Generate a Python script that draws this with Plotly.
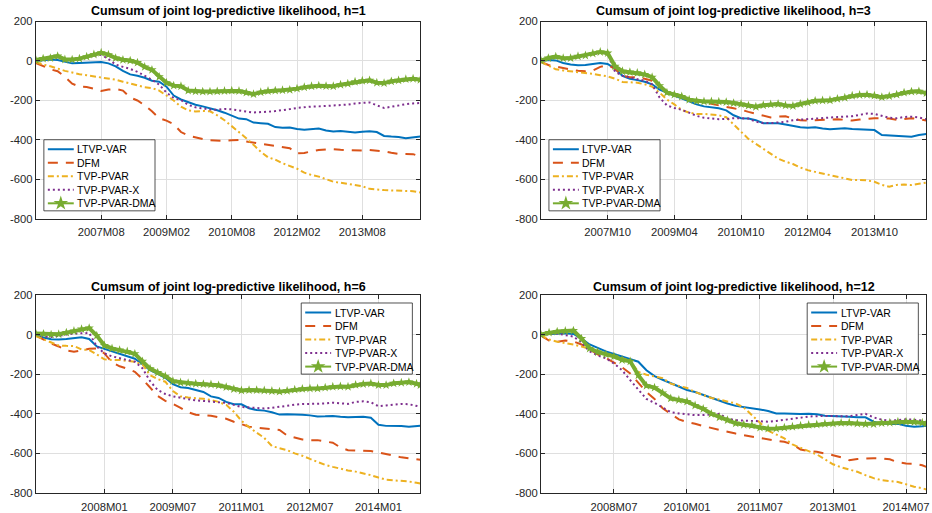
import plotly.graph_objects as go

W, H = 932, 513

NAMES = ["LTVP-VAR", "DFM", "TVP-PVAR", "TVP-PVAR-X", "TVP-PVAR-DMA"]
HORIZONS = [1, 3, 6, 12]
START_MONTH = ["2006M02", "2006M04", "2006M07", "2007M01"]
END_MONTH = "2014M12"
XTICK_LABELS = [
    ["2007M08", "2009M02", "2010M08", "2012M02", "2013M08"],
    ["2007M10", "2009M04", "2010M10", "2012M04", "2013M10"],
    ["2008M01", "2009M07", "2011M01", "2012M07", "2014M01"],
    ["2008M07", "2010M01", "2011M07", "2013M01", "2014M07"],
]
YTICK_VALUES = [200, 0, -200, -400, -600, -800]
YTICK_LABELS = ["200", "0", "-200", "-400", "-600", "-800"]

# ---- cumulative sums read off the chart, sampled every 2 months (+ last month) ----
# h = 1 (2006M02 .. 2014M12)
H1_LTVP = [0, 3, 8, 5, -5, -12, -10, -8, -5, -5, -12, -27, -50, -68, -75, -85, -100, -105, -130, -175,
           -195, -210, -222, -230, -239, -250, -262, -275, -292, -295, -312, -315, -318, -335, -338, -337,
           -345, -348, -345, -342, -352, -357, -355, -360, -362, -358, -356, -360, -380, -383, -385, -391,
           -388, -383]
H1_DFM = [-10, -25, -42, -52, -80, -115, -130, -132, -140, -152, -145, -142, -150, -185, -200, -225, -255,
          -290, -302, -320, -360, -378, -388, -395, -402, -405, -405, -402, -400, -408, -414, -420, -426,
          -432, -437, -442, -468, -466, -458, -451, -448, -447, -450, -451, -453, -454, -451, -453, -458,
          -465, -471, -471, -472, -485]
H1_PVAR = [-5, -18, -27, -40, -50, -58, -67, -72, -78, -83, -88, -95, -105, -115, -125, -133, -137, -150,
           -175, -200, -232, -250, -256, -253, -255, -275, -300, -330, -360, -391, -425, -460, -488, -500,
           -518, -532, -546, -566, -578, -586, -600, -612, -617, -622, -627, -635, -648, -652, -654, -656,
           -658, -659, -660, -666]
H1_PVARX = [0, 5, 10, 18, 5, 8, 15, 20, 28, 32, 10, -18, -30, -40, -55, -75, -95, -120, -160, -188,
            -198, -222, -235, -240, -246, -247, -243, -245, -252, -256, -261, -260, -257, -254, -250, -244,
            -238, -234, -231, -230, -228, -227, -224, -221, -215, -212, -210, -225, -238, -232, -225, -219,
            -215, -213]
H1_DMA = [5, 12, 15, 25, 8, 7, 12, 22, 33, 42, 32, 15, 6, 2, -8, -30, -45, -80, -110, -125, -128, -150,
          -154, -155, -155, -154, -152, -150, -152, -160, -168, -158, -152, -150, -148, -146, -140, -133,
          -128, -125, -127, -128, -120, -115, -105, -100, -98, -110, -112, -103, -98, -92, -90, -95]

# h = 3 (2006M04 .. 2014M12)
H3_LTVP = [0, 5, 3, -10, -18, -22, -20, -14, -10, -15, -40, -75, -90, -97, -105, -118, -145, -160, -175,
           -190, -205, -220, -230, -235, -240, -250, -275, -290, -292, -300, -315, -315, -316, -322, -330,
           -336, -338, -336, -342, -346, -343, -341, -345, -346, -346, -350, -375, -378, -380, -382, -384,
           -375, -370]
H3_DFM = [-5, -20, -28, -35, -45, -50, -52, -48, -30, -20, -40, -75, -82, -82, -90, -100, -130, -158, -170,
          -182, -195, -203, -208, -217, -226, -233, -240, -247, -258, -268, -278, -286, -282, -280, -292,
          -300, -302, -300, -298, -297, -295, -298, -302, -297, -293, -290, -290, -292, -298, -295, -290,
          -295, -302]
H3_PVAR = [-5, -25, -42, -48, -52, -55, -62, -65, -72, -78, -90, -106, -108, -110, -118, -130, -160, -195,
           -220, -248, -262, -268, -268, -270, -275, -285, -320, -360, -395, -420, -445, -470, -495, -510,
           -522, -540, -553, -562, -570, -578, -585, -595, -603, -603, -605, -612, -628, -637, -628, -626,
           -629, -622, -617]
H3_PVARX = [0, 12, 18, 12, 14, 22, 26, 35, 42, 35, -55, -75, -85, -92, -100, -118, -185, -225, -238, -248,
            -262, -278, -288, -292, -295, -294, -290, -290, -292, -308, -314, -315, -313, -308, -300, -297,
            -295, -292, -287, -285, -284, -282, -280, -273, -266, -268, -278, -288, -290, -284, -282, -286,
            -295]
H3_DMA = [2, 15, 22, 14, 15, 24, 28, 38, 46, 40, -27, -52, -56, -60, -68, -82, -125, -160, -170, -180,
          -196, -203, -205, -205, -206, -208, -213, -218, -226, -232, -224, -220, -218, -225, -228, -218,
          -210, -202, -200, -199, -192, -186, -176, -172, -171, -175, -183, -178, -170, -160, -155, -154,
          -163]

# h = 6 (2006M07 .. 2014M12)
H6_LTVP = [0, -15, -24, -25, -22, -18, -14, -22, -60, -72, -85, -95, -108, -122, -150, -180, -198, -218,
           -250, -266, -270, -280, -290, -312, -320, -340, -352, -352, -372, -381, -384, -392, -404, -402,
           -402, -405, -408, -414, -413, -411, -415, -418, -416, -415, -420, -455, -461, -460, -462, -465,
           -460, -460]
H6_DFM = [-5, -25, -45, -60, -80, -87, -80, -72, -70, -95, -140, -160, -172, -188, -225, -270, -310, -335,
          -350, -370, -392, -405, -408, -410, -418, -425, -440, -452, -465, -470, -474, -478, -482, -510,
          -520, -530, -533, -533, -540, -546, -570, -584, -586, -587, -588, -595, -604, -612, -620, -625,
          -630, -632]
H6_PVAR = [-8, -25, -40, -55, -57, -58, -75, -78, -100, -125, -128, -128, -133, -138, -150, -205, -225,
           -238, -285, -312, -318, -320, -324, -330, -340, -355, -390, -435, -468, -495, -522, -563, -575,
           -584, -600, -612, -628, -645, -658, -668, -678, -686, -692, -700, -710, -722, -733, -736, -738,
           -742, -748, -752]
H6_PVARX = [0, -10, -12, -5, 0, 5, 8, 8, -60, -95, -110, -118, -127, -137, -170, -235, -280, -300, -312,
            -320, -326, -332, -336, -340, -344, -345, -355, -366, -368, -370, -373, -370, -364, -358, -354,
            -351, -350, -352, -348, -344, -348, -350, -340, -337, -342, -362, -358, -355, -350, -352, -358,
            -364]
H6_DMA = [5, 4, 0, 2, 10, 18, 28, 33, -5, -55, -70, -78, -85, -97, -135, -172, -192, -210, -235, -242,
          -245, -248, -250, -252, -256, -265, -275, -282, -280, -280, -282, -285, -288, -284, -278, -274,
          -272, -272, -268, -263, -262, -263, -254, -250, -247, -255, -255, -246, -243, -240, -248, -255]

# h = 12 (2007M01 .. 2014M12)
H12_LTVP = [0, 3, 5, 7, 3, -20, -50, -68, -85, -98, -110, -122, -137, -180, -210, -228, -245, -265, -280,
            -290, -305, -318, -335, -348, -360, -366, -370, -378, -386, -398, -398, -400, -401, -400, -402,
            -410, -411, -411, -415, -418, -418, -440, -450, -452, -450, -460, -465, -463, -460]
H12_DFM = [-5, -30, -36, -30, -35, -50, -75, -100, -118, -140, -165, -196, -245, -290, -325, -372, -400,
           -428, -442, -450, -462, -472, -483, -492, -500, -508, -515, -524, -530, -536, -541, -555, -580,
           -588, -592, -600, -609, -620, -634, -628, -625, -624, -625, -630, -645, -651, -652, -660, -668]
H12_PVAR = [-3, -25, -36, -42, -50, -60, -72, -85, -95, -108, -118, -135, -188, -203, -212, -220, -248,
            -258, -270, -290, -305, -320, -328, -338, -348, -368, -405, -445, -485, -505, -524, -555, -572,
            -588, -605, -630, -655, -670, -682, -693, -710, -725, -735, -740, -744, -756, -768, -776, -782]
H12_PVARX = [0, 5, 5, -2, -10, -40, -85, -105, -120, -146, -180, -230, -280, -325, -345, -370, -392, -398,
             -402, -407, -406, -402, -400, -425, -432, -434, -435, -438, -440, -436, -430, -423, -418, -414,
             -412, -411, -411, -413, -412, -406, -400, -418, -430, -435, -432, -428, -430, -435, -449]
H12_DMA = [0, 10, 15, 18, 20, -20, -70, -88, -100, -110, -128, -135, -205, -258, -268, -295, -322, -330,
           -338, -358, -375, -400, -418, -432, -448, -455, -458, -470, -475, -474, -470, -465, -460, -456,
           -454, -450, -449, -446, -445, -449, -452, -452, -447, -445, -440, -440, -442, -445, -449]

SERIES = [
    [H1_LTVP, H1_DFM, H1_PVAR, H1_PVARX, H1_DMA],
    [H3_LTVP, H3_DFM, H3_PVAR, H3_PVARX, H3_DMA],
    [H6_LTVP, H6_DFM, H6_PVAR, H6_PVARX, H6_DMA],
    [H12_LTVP, H12_DFM, H12_PVAR, H12_PVARX, H12_DMA],
]

# ---- styles ----
COLORS = ["#0072BD", "#D95319", "#EDB120", "#7E2F8E", "#77AC30"]
DASHES = ["solid", "10px,8px", "6px,3px,2px,3px", "2px,3px", "solid"]
LW = 2.0
DMA_LW = 4.0
AX = "#262626"
GRID = "#dfdfdf"
FONT = "Liberation Sans, Arial, Helvetica, sans-serif"

# the photographed page comes out slightly squeezed vertically; map target pixel rows to page rows
SQUEEZE, SHIFT = 0.975, 6.5


def PY(y):
    return (y - SHIFT) / SQUEEZE


# plot areas in target pixels: left, right, top, bottom
PANELS = [(36, 421.7, 22, 219), (542.7, 929.3, 22, 219),
          (36, 421.7, 295, 492.7), (542.7, 929.3, 295, 492.7)]
LEGEND_CORNER = ["bl", "bl", "tr", "tr"]
TITLE_Y = [11.5, 11.5, 287, 287]


def month_index(label, start):
    y, m = int(label[:4]), int(label[5:])
    y0, m0 = int(start[:4]), int(start[5:])
    return (y - y0) * 12 + (m - m0)


def sample_months(start):
    n = month_index(END_MONTH, start)
    ms = list(range(0, n + 1, 2))
    if ms[-1] != n:
        ms.append(n)
    return ms


fig = go.Figure()
layout = dict(
    width=W, height=H, autosize=False,
    margin=dict(l=0, r=0, t=0, b=0, pad=0),
    paper_bgcolor="white", plot_bgcolor="rgba(0,0,0,0)",
    showlegend=False, hovermode=False,
    font=dict(family=FONT, size=11, color=AX),
)
annotations = []

for p in range(4):
    k = p + 1
    xa = "x" if k == 1 else f"x{k}"
    ya = "y" if k == 1 else f"y{k}"
    start = START_MONTH[p]
    months = sample_months(start)
    n_end = month_index(END_MONTH, start)
    l, r, t, b = PANELS[p]
    for s in range(5):
        vals = SERIES[p][s]
        assert len(vals) == len(months), (p, s, len(vals), len(months))
        tr = dict(x=months, y=vals, xaxis=xa, yaxis=ya, name=NAMES[s],
                  line=dict(color=COLORS[s], width=LW, dash=DASHES[s]))
        if s == 4:
            tr.update(mode="lines+markers", line=dict(color=COLORS[s], width=DMA_LW),
                      marker=dict(symbol="star", size=7, color=COLORS[s], line=dict(width=0)))
        else:
            tr.update(mode="lines")
        fig.add_trace(go.Scatter(**tr))

    common = dict(showline=True, linecolor=AX, linewidth=1, mirror="ticks",
                  ticks="inside", ticklen=4, tickcolor=AX, tickwidth=1,
                  showgrid=True, gridcolor=GRID, gridwidth=1, zeroline=False,
                  tickfont=dict(family=FONT, size=11.25, color=AX), fixedrange=True,
                  ticklabeloverflow="allow")
    layout["xaxis" if k == 1 else f"xaxis{k}"] = dict(
        common, domain=[l / W, r / W], range=[0, n_end], anchor=ya,
        tickvals=[month_index(lbl, start) for lbl in XTICK_LABELS[p]],
        ticktext=XTICK_LABELS[p], ticklabelstandoff=3)
    layout["yaxis" if k == 1 else f"yaxis{k}"] = dict(
        common, domain=[1 - PY(b) / H, 1 - PY(t) / H], range=[-800, 200], anchor=xa,
        tickvals=YTICK_VALUES, ticktext=YTICK_LABELS)

    annotations.append(dict(
        text=f"Cumsum of joint log-predictive likelihood, h={HORIZONS[p]}",
        x=(l + r) / 2, y=PY(TITLE_Y[p]), xref="x5", yref="y5", showarrow=False,
        xanchor="center", yanchor="middle",
        font=dict(family=FONT, size=12.5, color="#000000", weight="bold")))

# ---- pixel overlay axis for the compact MATLAB-style legends ----
layout["xaxis5"] = dict(domain=[0, 1], range=[0, W], visible=False, anchor="y5", fixedrange=True)
layout["yaxis5"] = dict(domain=[0, 1], range=[H, 0], visible=False, anchor="x5", fixedrange=True)

BOX_W, BOX_H, OFF = 111.5, 71, 8
for p in range(4):
    l, r, t, b = PANELS[p]
    if LEGEND_CORNER[p] == "bl":
        bl, bt = l + OFF, b - OFF - BOX_H
    else:
        bl, bt = r - OFF - BOX_W, t + OFF
    br, bb = bl + BOX_W, bt + BOX_H
    fig.add_trace(go.Scatter(x=[bl, br, br, bl, bl], y=[PY(bt), PY(bt), PY(bb), PY(bb), PY(bt)],
                             xaxis="x5", yaxis="y5", mode="lines", fill="toself", fillcolor="white",
                             line=dict(color=AX, width=0.8)))
    for s in range(5):
        ry = PY(bt + 9.5 + 13.5 * s)
        fig.add_trace(go.Scatter(x=[bl + 4, bl + 30], y=[ry, ry], xaxis="x5", yaxis="y5", mode="lines",
                                 line=dict(color=COLORS[s], width=LW, dash=DASHES[s])))
        if s == 4:
            fig.add_trace(go.Scatter(x=[bl + 17], y=[ry], xaxis="x5", yaxis="y5", mode="markers",
                                     marker=dict(symbol="star", size=11, color=COLORS[s], line=dict(width=0))))
        annotations.append(dict(text=NAMES[s], x=bl + 31.5, y=ry, xref="x5", yref="y5", showarrow=False,
                                xanchor="left", yanchor="middle",
                                font=dict(family=FONT, size=10.5, color="#000000")))

layout["annotations"] = annotations
fig.update_layout(**layout)

PAGE_FIX = (
    "document.documentElement.style.cssText='margin:0;padding:0;overflow:hidden;height:513px;width:932px;';"
    "document.body.style.cssText='margin:0;padding:0;overflow:hidden;height:513px;width:932px;';"
    "var gd=document.getElementById('{plot_id}');"
    "gd.style.position='fixed';gd.style.left='0px';gd.style.top='0px';"
)
fig.write_html("out.html", config={"displayModeBar": False}, post_script=PAGE_FIX)
